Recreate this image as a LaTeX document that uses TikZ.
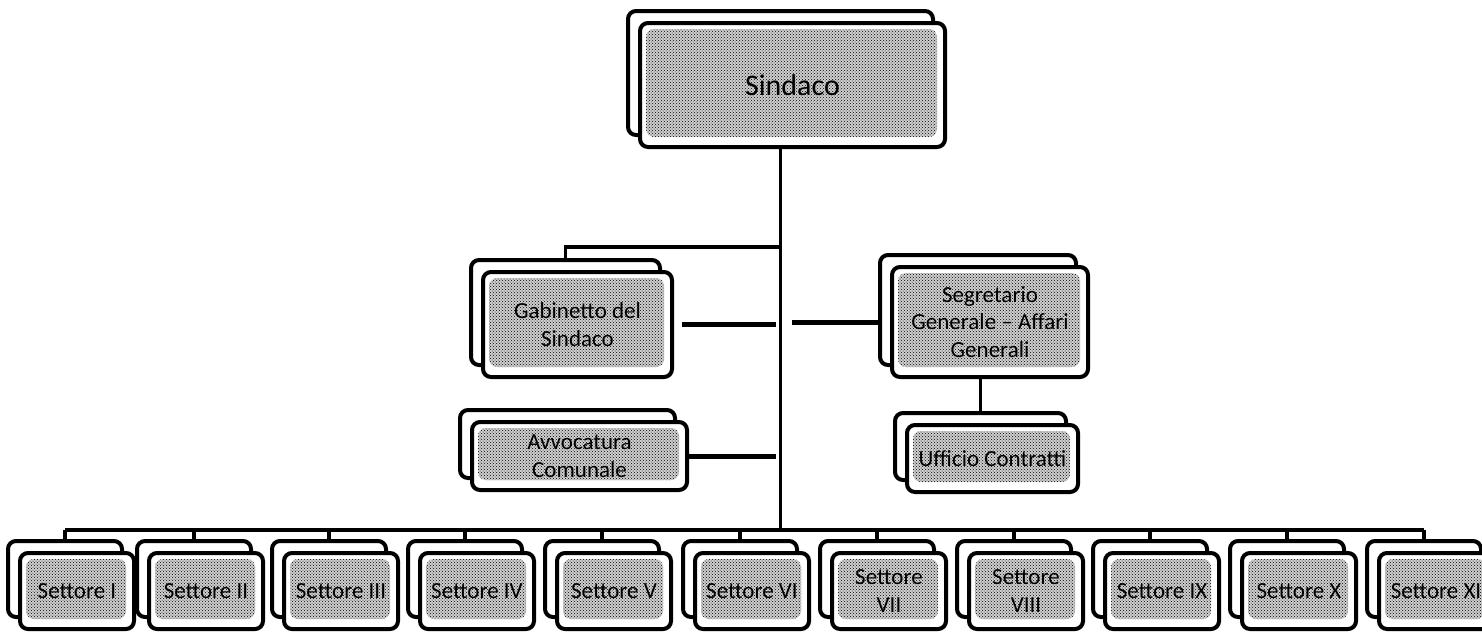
\documentclass[tikz,border=0pt]{standalone}
\usepackage{fontspec}
\setmainfont{Carlito}
\usetikzlibrary{shadows,patterns}
\tikzset{
  stipple/.style={
    path picture={
      \fill[gray!38] ([shift={(6pt,10pt)}]path picture bounding box.south west) rectangle ([shift={(-8pt,-6pt)}]path picture bounding box.north east);
      \fill[pattern=crosshatch dots, pattern color=black] ([shift={(6pt,10pt)}]path picture bounding box.south west) rectangle ([shift={(-8pt,-6pt)}]path picture bounding box.north east);
    }},
  unitbox/.style={draw, line width=4pt, rounded corners=8pt, fill=white,
    align=center, inner sep=0pt, font=\fontsize{23}{27.5}\selectfont,
    copy shadow={shadow xshift=-12pt, shadow yshift=12pt, fill=white, draw=black, line width=4pt},
    stipple},
  conn/.style={line width=3.5pt},
  stub/.style={line width=5pt}
}
\begin{document}
\begin{tikzpicture}[x=1pt,y=-1pt]
\useasboundingbox (0,0) rectangle (1482,633);

% top
\node[unitbox, font=\fontsize{30}{36}\selectfont, minimum width=305pt, minimum height=124pt] (sind) at (792.5,85) {Sindaco};
% level 2
\node[unitbox, minimum width=189pt, minimum height=105pt] (gab) at (577.5,324.5) {Gabinetto del\\Sindaco};
\node[unitbox, minimum width=215pt, minimum height=68pt] (avv) at (579.5,456) {Avvocatura\\Comunale};
\node[unitbox, minimum width=196pt, minimum height=110pt] (seg) at (990,322) {Segretario\\Generale – Affari\\Generali};
\node[unitbox, minimum width=171pt, minimum height=67pt] (uff) at (992.5,458.5) {Ufficio Contratti};

% bottom row
\foreach \i/\bx/\lab in {1/8/{Settore I},2/137/{Settore II},3/272/{Settore III},4/408/{Settore IV},5/545/{Settore V},6/683/{Settore VI},7/820/{Settore\\VII},8/957/{Settore\\VIII},9/1093/{Settore IX},10/1230/{Settore X},11/1367/{Settore XI}}{
  \node[unitbox, minimum width=114pt, minimum height=76pt] (s\i) at (\bx+69,591) {\lab};
}

% connector coordinates
\coordinate (sindb) at ([xshift=-12pt]sind.south);
\coordinate (barY) at (0,530);
\coordinate (l2Y) at (0,247);
\coordinate (hub) at (sindb |- barY);
\coordinate (hubL) at ([xshift=-5pt]sindb);
\coordinate (hubR) at ([xshift=11pt]sindb);
\coordinate (gabtop) at ([shift={(-12pt,12pt)}]gab.north);
\coordinate (gabR) at ([xshift=8pt]gab.east);
\coordinate (segL) at ([xshift=-12pt]seg.west);
\coordinate (ufftop) at ([shift={(-12pt,12pt)}]uff.north);

% main trunk
\draw[conn] (sindb) -- (hub);
% level 2
\draw[conn] (gabtop) -- (gabtop |- l2Y) -- (sindb |- l2Y);
\draw[stub] (gabR) -- (gabR -| hubL);
\draw[stub] (segL) -- (segL -| hubR);
\draw[stub] (avv.east) -- (avv.east -| hubL);
\draw[conn] (ufftop |- seg.south) -- (ufftop);

% bottom bar
\foreach \i in {1,...,11}{
  \coordinate (t\i) at ([shift={(-12pt,12pt)}]s\i.north);
  \draw[conn] (t\i) -- (t\i |- barY);
}
\draw[conn] (t1 |- barY) -- (t11 |- barY);
\end{tikzpicture}
\end{document}
